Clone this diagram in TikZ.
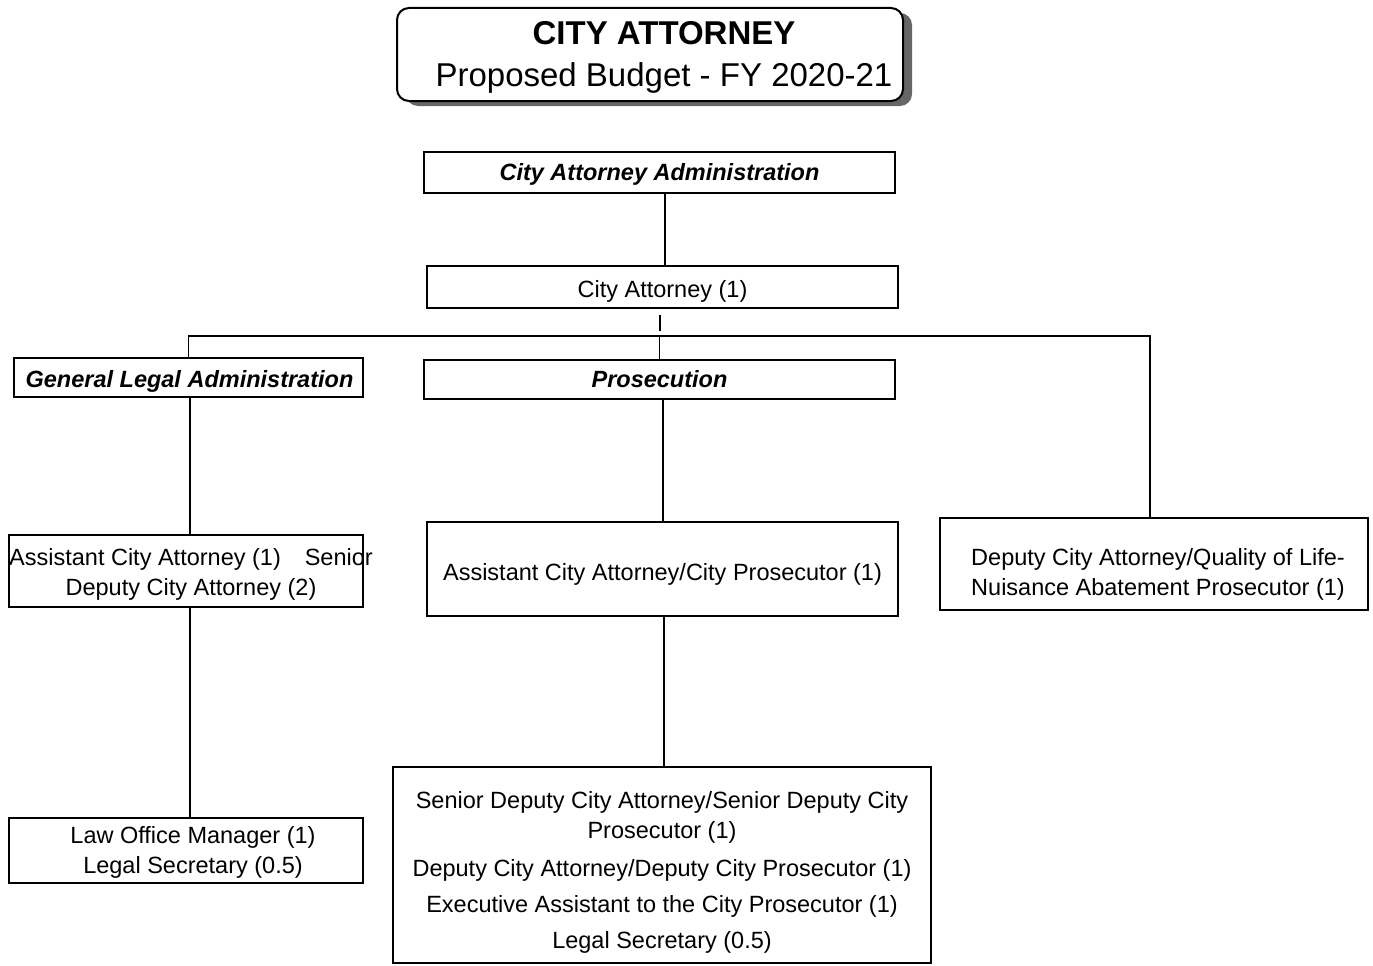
\documentclass[tikz,border=0pt]{standalone}
\usepackage{fontspec}
\setmainfont{Liberation Sans}
\usetikzlibrary{shadows}
\newcommand{\shifted}[3]{\raisebox{0pt}[\dimexpr\height+#2+#2\relax][\depth]{\hspace*{\dimexpr#1+#1\relax}\begin{tabular}{@{}c@{}}#3\end{tabular}}}
\begin{document}
\begin{tikzpicture}[x=1pt,y=-1pt,
  every node/.style={font=\fontsize{23.5}{30}\selectfont},
  box/.style={draw, line width=1.2pt, rectangle, inner sep=0pt, align=center},
  head/.style={box, font=\fontsize{23.5}{30}\selectfont\bfseries\itshape},
  conn/.style={line width=1.2pt},
  titlebox/.style={draw, line width=2pt, rounded corners=12pt, fill=white, inner sep=0pt,
    font=\fontsize{33}{42}\selectfont,
    drop shadow={shadow xshift=9pt, shadow yshift=-5pt, fill=black!60, opacity=1}}]
\useasboundingbox (0,0) rectangle (1373,966);

% title
\node[titlebox, minimum width=506, minimum height=93] (title) at (650,54.5)
  {\shifted{14pt}{3pt}{\bfseries CITY ATTORNEY\\ Proposed Budget - FY 2020-21}};

% boxes
\node[head, minimum width=471, minimum height=41] (admin) at (659.5,172.5) {\shifted{0pt}{2pt}{City Attorney Administration}};
\node[box, minimum width=471, minimum height=42] (ca) at (662.5,287) {\shifted{0pt}{4pt}{City Attorney (1)}};
\node[head, minimum width=349, minimum height=39] (gla) at (188.5,377.5) {\shifted{1pt}{4pt}{General Legal Administration}};
\node[head, minimum width=471, minimum height=39] (pros) at (659.5,379.5) {\shifted{0pt}{2pt}{Prosecution}};
\node[box, minimum width=354, minimum height=72] (aca) at (186,571)
  {\makebox[330pt][c]{\shifted{5pt}{3pt}{Assistant City Attorney (1)\hspace{24pt}Senior\\Deputy City Attorney (2)}}};
\node[box, minimum width=354, minimum height=65] (law) at (186,850.5)
  {\shifted{7pt}{2pt}{Law Office Manager (1)\\Legal Secretary (0.5)}};
\node[box, minimum width=471, minimum height=94] (acp) at (662.5,569)
  {\shifted{0pt}{5pt}{Assistant City Attorney/City Prosecutor (1)}};
\node[box, minimum width=538, minimum height=196] (sub) at (662,865)
  {\shifted{0pt}{7pt}{Senior Deputy City Attorney/Senior Deputy City\\Prosecutor (1)\\[8pt]Deputy City Attorney/Deputy City Prosecutor (1)\\[6pt]Executive Assistant to the City Prosecutor (1)\\[6pt]Legal Secretary (0.5)}};
\node[box, minimum width=428, minimum height=92] (dep) at (1154,564)
  {\shifted{4pt}{10pt}{Deputy City Attorney/Quality of Life-\\Nuisance Abatement Prosecutor (1)}};

% connectors
\coordinate (bus) at (660,336);
\draw[conn] ([xshift=5.5pt]admin.south) -- ([xshift=5.5pt]admin.south |- ca.north);
\draw[conn] ([xshift=-2.5pt,yshift=-6pt]ca.south) -- ++(0,16);
\draw[conn] (gla.north) |- (bus);
\draw[conn] ([xshift=-4pt]dep.north) |- (bus);
\draw[conn] (pros.north) -- (pros.north |- bus);
\draw[conn] ([xshift=1.5pt]gla.south) -- ([xshift=1.5pt]gla.south |- aca.north);
\draw[conn] ([xshift=4pt]aca.south) -- ([xshift=4pt]aca.south |- law.north);
\draw[conn] ([xshift=3.5pt]pros.south) -- ([xshift=3.5pt]pros.south |- acp.north);
\draw[conn] ([xshift=1.5pt]acp.south) -- ([xshift=1.5pt]acp.south |- sub.north);
\end{tikzpicture}
\end{document}
